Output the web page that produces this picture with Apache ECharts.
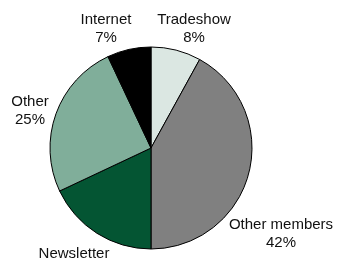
<!DOCTYPE html>
<html><head><meta charset="utf-8">
<script src="https://cdn.jsdelivr.net/npm/echarts@6/dist/echarts.min.js"></script>
<style>html,body{margin:0;padding:0;background:#fff}#c{width:338px;height:263px}</style>
</head><body><div id="c"></div>
<script>
const categories = ['Tradeshow', 'Other members', 'Newsletter', 'Other', 'Internet'];
const values = [8, 42, 18, 25, 7];
const colors = ['#dbe7e2', '#808080', '#045533', '#80ae9a', '#000000'];
// label anchor positions (layout only)
const labelPos = [[194, 29], [281, 234], [74, 263], [30, 111], [106, 29]];

const chart = echarts.init(document.getElementById('c'), null, {renderer: 'canvas'});
chart.setOption({
  animation: false,
  series: [{
    type: 'pie',
    center: [151, 148],
    radius: 101,
    startAngle: 90,
    clockwise: true,
    data: categories.map((n, i) => ({name: n, value: values[i], itemStyle: {color: colors[i]}})),
    itemStyle: {borderColor: '#000', borderWidth: 1},
    label: {
      show: true,
      position: 'outside',
      formatter: p => p.name + '\n' + p.value + '%',
      fontFamily: '"Liberation Sans", Arial, sans-serif',
      fontSize: 15,
      lineHeight: 18,
      color: '#111',
      align: 'center',
      overflow: 'none',
      width: 200
    },
    labelLine: {show: false},
    labelLayout: p => ({x: labelPos[p.dataIndex][0], y: labelPos[p.dataIndex][1], align: 'center', verticalAlign: 'middle'}),
    emphasis: {disabled: true}
  }]
});
</script></body></html>
